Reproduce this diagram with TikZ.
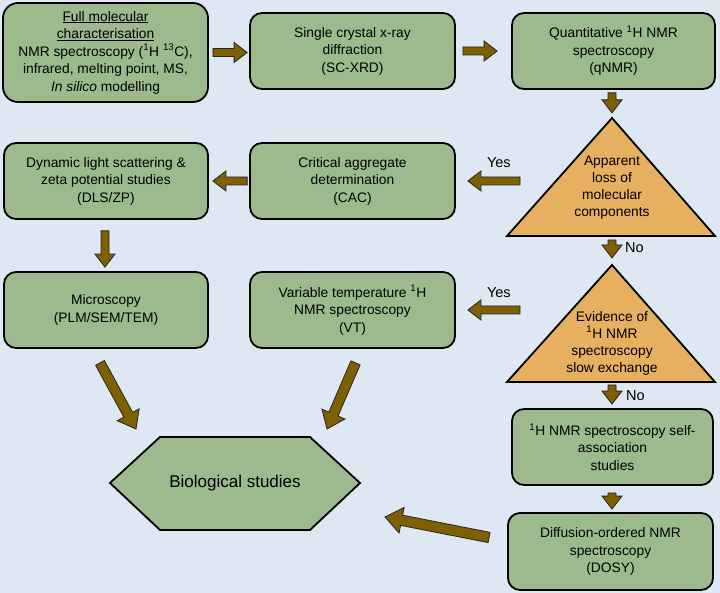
\documentclass[tikz,border=0pt]{standalone}
\usepackage{fontspec}
\setmainfont{Liberation Sans}
\usetikzlibrary{calc}

\definecolor{bgblue}{RGB}{221,232,243}
\definecolor{boxgreen}{RGB}{156,186,142}
\definecolor{condorange}{RGB}{231,176,96}
\definecolor{arrowbrown}{RGB}{127,96,0}

\tikzset{
  stage/.style={draw=black, line width=1.8pt, rounded corners=12pt, fill=boxgreen,
    minimum width=205pt, minimum height=76pt, inner sep=0pt, align=center,
    font=\fontsize{13.8}{17.5}\selectfont},
  cond/.style={draw=black, line width=1.8pt, line join=miter, fill=condorange},
  condtext/.style={align=center, inner sep=0pt, font=\fontsize{13.8}{17}\selectfont},
  answer/.style={inner sep=0pt, font=\fontsize{14.5}{17}\selectfont},
  fatarrow/.style={draw=black!85, line width=0.8pt, line join=miter, fill=arrowbrown}
}

% block arrow from #2 to #3, #1 scales its size
\newcommand{\fatarrow}[3][1]{%
  \coordinate (fa tail) at #2;
  \coordinate (fa tip) at #3;
  \coordinate (fa neck) at ($(fa tip)!{#1*13pt}!(fa tail)$);
  \draw[fatarrow] ($(fa tail)!{#1*4pt}!90:(fa tip)$) -- ($(fa neck)!{#1*4pt}!-90:(fa tail)$)
    -- ($(fa neck)!{#1*10pt}!-90:(fa tail)$) -- (fa tip) -- ($(fa neck)!{#1*10pt}!90:(fa tail)$)
    -- ($(fa neck)!{#1*4pt}!90:(fa tail)$) -- ($(fa tail)!{#1*4pt}!-90:(fa tip)$) -- cycle;}

\begin{document}
\begin{tikzpicture}[x=1pt, y=-1pt]
  \useasboundingbox (0,0) rectangle (720,593);
  \fill[bgblue] (0,0) rectangle (720,593);

  % Top row
  \node[stage, minimum height=99pt, rounded corners=15pt] (full) at (105.5,52.5)
    {\underline{Full molecular}\\\underline{characterisation}\\NMR spectroscopy (\textsuperscript{1}H \textsuperscript{13}C),\\infrared, melting point, MS,\\\textit{In silico} modelling};
  \node[stage] (single) at (352.5,51) {Single crystal x-ray\\diffraction\\(SC-XRD)};
  \node[stage, minimum width=203pt] (quant) at (613.5,51) {Quantitative \textsuperscript{1}H NMR\\spectroscopy\\(qNMR)};

  % Decisions
  \draw[cond] (612,118) -- (715,236) -- (507,236) -- cycle;
  \node[condtext] (loss) at (612,188) {Apparent\\loss of\\molecular\\components};
  \draw[cond] (612,265) -- (715,382) -- (507,382) -- cycle;
  \node[condtext] (slow) at (612,343) {Evidence of\\\textsuperscript{1}H NMR\\spectroscopy\\slow exchange};

  % Second and third rows
  \node[stage, minimum width=204pt] (dls) at (106,181) {Dynamic light scattering \&\\zeta potential studies\\(DLS/ZP)};
  \node[stage] (cac) at (352.5,181) {Critical aggregate\\determination\\(CAC)};
  \node[stage, minimum width=204pt] (micro) at (106,310) {Microscopy\\(PLM/SEM/TEM)};
  \node[stage] (vt) at (352.5,310) {Variable temperature \textsuperscript{1}H\\NMR spectroscopy\\(VT)};

  % Right column
  \node[stage, minimum width=201pt] (selfassoc) at (612.5,447) {\textsuperscript{1}H NMR spectroscopy self-\\association\\studies};
  \node[stage, minimum height=77pt] (dosy) at (610.5,551.5) {Diffusion-ordered NMR\\spectroscopy\\(DOSY)};

  % Hexagon
  \draw[cond, fill=boxgreen] (110,483) -- (160,437) -- (310,437) -- (360,483) -- (310,530) -- (160,530) -- cycle;
  \node[font=\fontsize{17}{20}\selectfont] (bio) at (235,483) {Biological studies};

  % Yes / No
  \node[answer] (yes1) at ($(cac.east)+(43,-18)$) {Yes};
  \node[answer, anchor=west] (no1) at ($(loss)+(13,60)$) {No};
  \node[answer] (yes2) at ($(vt.east)+(43,-17)$) {Yes};
  \node[answer, anchor=west] (no2) at ($(slow)+(14,53)$) {No};

  % Arrows
  \fatarrow{($(full.east)+(4,0)$)}{($(single.west |- full.east)+(-2,0)$)}
  \fatarrow{($(single.east)+(7,0)$)}{($(quant.west)+(-14,0)$)}
  \fatarrow{($(quant.south)+(-1.5,3)$)}{($(quant.south)+(-1.5,23)$)}
  \fatarrow{($(loss)+(-92,-7)$)}{($(cac.east)+(12,0)$)}
  \fatarrow{($(cac.west)+(-2,0)$)}{($(dls.east)+(4,0)$)}
  \fatarrow{($(dls.south)+(-1,11)$)}{($(micro.north)+(-1,-4)$)}
  \fatarrow{($(loss)+(0,52)$)}{($(loss)+(0,70)$)}
  \fatarrow{($(slow)+(-92,-33)$)}{($(vt.east)+(12,0)$)}
  \fatarrow{($(slow)+(0,42)$)}{($(selfassoc.north)+(-0.5,-4)$)}
  \fatarrow{($(selfassoc.south)+(-0.5,7)$)}{($(dosy.north)+(1.5,-3)$)}
  \fatarrow[1.3]{($(dosy.west)+(-18,-14)$)}{($(bio)+(150,34)$)}
  \fatarrow[1.25]{($(micro.south)+(-6,14)$)}{($(bio)+(-99,-54)$)}
  \fatarrow[1.25]{($(vt.south)+(3,14)$)}{($(bio)+(92,-54)$)}
\end{tikzpicture}
\end{document}
